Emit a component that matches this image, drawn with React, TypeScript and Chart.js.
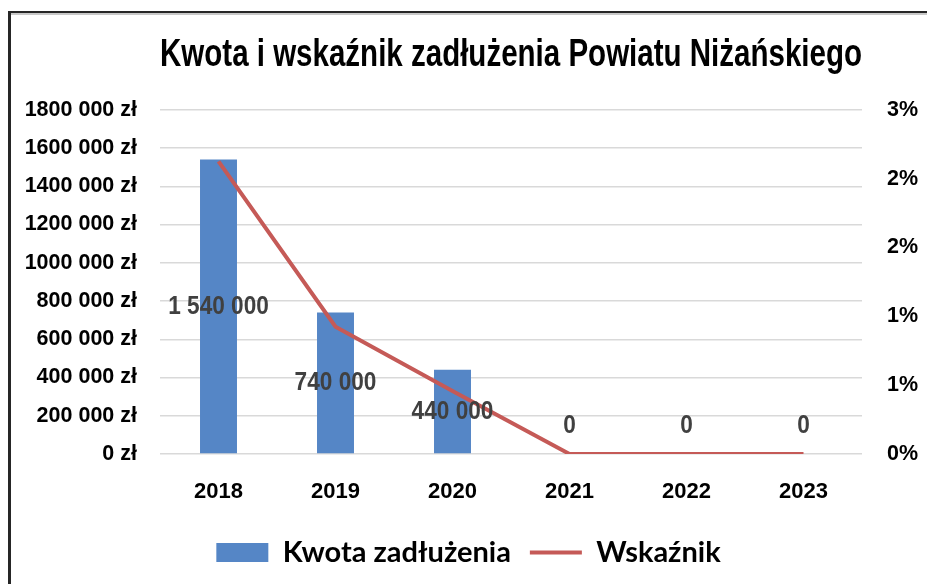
import React, { useEffect, useRef } from "react";
import { Chart, registerables } from "chart.js";

Chart.register(...registerables);

const TITLE = "Kwota i wskaźnik zadłużenia Powiatu Niżańskiego";
const years = ["2018", "2019", "2020", "2021", "2022", "2023"];
const debtAmounts = [1540000, 740000, 440000, 0, 0, 0];
const debtRatioPct = [2.55, 1.11, 0.55, 0, 0, 0];
const seriesNames = ["Kwota zadłużenia", "Wskaźnik"];

const amountTickValues = [0, 200000, 400000, 600000, 800000, 1000000, 1200000, 1400000, 1600000, 1800000];
const amountTickLabels = [
  "0 zł",
  "200 000 zł",
  "400 000 zł",
  "600 000 zł",
  "800 000 zł",
  "1000 000 zł",
  "1200 000 zł",
  "1400 000 zł",
  "1600 000 zł",
  "1800 000 zł",
];
const ratioTickValues = [0, 0.6, 1.2, 1.8, 2.4, 3];
const ratioTickLabels = ["0%", "1%", "1%", "2%", "2%", "3%"];

const BAR_COLOR = "#5586C6";
const LINE_COLOR = "#C55A57";
const SANS = "'Liberation Sans', Arial, sans-serif";
const LEGEND_FONT = "Lato, 'Noto Sans', sans-serif";

const fmt = (n: number) => String(n).replace(/\B(?=(\d{3})+(?!\d))/g, " ");

const framePlugin = {
  id: "frame",
  beforeDraw(chart: any) {
    const { ctx, width, height } = chart;
    ctx.save();
    ctx.fillStyle = "#ffffff";
    ctx.fillRect(0, 0, width, height);
    ctx.fillStyle = "#c8c8c8";
    ctx.fillRect(10, 13, width - 10, 2);
    ctx.fillStyle = "#262626";
    ctx.fillRect(8, 11, width - 8, 2);
    ctx.fillRect(8, 11, 3, height - 11);
    ctx.restore();
  },
};

const valueLabelPlugin = {
  id: "valueLabels",
  afterDatasetsDraw(chart: any) {
    const { ctx } = chart;
    const meta = chart.getDatasetMeta(0);
    ctx.save();
    ctx.font = `bold 26px ${SANS}`;
    ctx.fillStyle = "#404040";
    ctx.textAlign = "center";
    ctx.textBaseline = "middle";
    meta.data.forEach((el: any, i: number) => {
      const v = debtAmounts[i];
      const { x, y, base } = el.getProps(["x", "y", "base"], true);
      const ly = v > 0 ? (y + base) / 2 : base - 28;
      const txt = fmt(v);
      const w = ctx.measureText(txt).width;
      ctx.fillText(txt, x, ly, w * 0.87);
    });
    ctx.restore();
  },
};

export default function App() {
  const ref = useRef<HTMLCanvasElement>(null);

  useEffect(() => {
    document.body.style.margin = "0";
    const chart = new Chart(ref.current as HTMLCanvasElement, {
      type: "bar",
      data: {
        labels: years,
        datasets: [
          {
            type: "bar",
            label: seriesNames[0],
            data: debtAmounts,
            backgroundColor: BAR_COLOR,
            borderWidth: 0,
            yAxisID: "y",
            order: 1,
            barPercentage: 0.316,
            categoryPercentage: 1,
          },
          {
            type: "line",
            label: seriesNames[1],
            data: debtRatioPct,
            borderColor: LINE_COLOR,
            backgroundColor: LINE_COLOR,
            borderWidth: 4,
            pointRadius: 0,
            tension: 0,
            yAxisID: "y1",
            order: 0,
          },
        ],
      },
      options: {
        responsive: false,
        animation: false,
        devicePixelRatio: 1,
        layout: { padding: { left: 10, right: 0, top: 0, bottom: 7 } },
        plugins: {
          title: {
            display: true,
            text: TITLE,
            fullSize: false,
            color: "#000",
            font: { family: SANS, size: 39, weight: "bold", lineHeight: 1.2 },
            padding: { top: 32, bottom: 31 },
          },
          legend: {
            position: "bottom",
            labels: {
              usePointStyle: true,
              pointStyleWidth: 52,
              boxHeight: 19,
              padding: 19,
              color: "#000",
              font: { family: LEGEND_FONT, size: 29, weight: "bold" },
              generateLabels: (c: any) => {
                const items = (Chart.defaults.plugins.legend.labels as any).generateLabels(c);
                items.forEach((it: any) => {
                  if (it.datasetIndex === 0) {
                    it.pointStyle = "rect";
                    it.lineWidth = 0;
                    it.strokeStyle = BAR_COLOR;
                  } else {
                    it.pointStyle = "line";
                    it.lineWidth = 4;
                    it.strokeStyle = LINE_COLOR;
                  }
                });
                return items.sort((a: any, b: any) => a.datasetIndex - b.datasetIndex);
              },
            },
          },
          tooltip: { enabled: false },
        },
        scales: {
          x: {
            grid: { display: false, drawTicks: false },
            border: { display: false },
            ticks: {
              color: "#000",
              font: { family: SANS, size: 22, weight: "bold" },
              padding: 25,
            },
            afterFit: (s: any) => {
              s.height = 65;
            },
          },
          y: {
            position: "left",
            min: 0,
            max: 1800000,
            grid: { color: "#d9d9d9", lineWidth: 1.5, drawTicks: false },
            border: { display: false },
            afterBuildTicks: (s: any) => {
              s.ticks = amountTickValues.map((v) => ({ value: v }));
            },
            ticks: {
              callback: (_v: any, i: number) => amountTickLabels[i],
              padding: 23,
              color: "#000",
              font: { family: SANS, size: 21.5, weight: "bold" },
            },
            afterFit: (s: any) => {
              s.width = 150;
            },
          },
          y1: {
            position: "right",
            min: 0,
            max: 3,
            grid: { display: false, drawTicks: false },
            border: { display: false },
            afterBuildTicks: (s: any) => {
              s.ticks = ratioTickValues.map((v) => ({ value: v }));
            },
            ticks: {
              callback: (_v: any, i: number) => ratioTickLabels[i],
              padding: 25,
              color: "#000",
              font: { family: SANS, size: 21.5, weight: "bold" },
            },
            afterFit: (s: any) => {
              s.width = 65;
            },
          },
        },
      } as any,
      plugins: [framePlugin, valueLabelPlugin],
    });
    return () => chart.destroy();
  }, []);

  return (
    <div style={{ width: 927, height: 584 }}>
      <canvas ref={ref} width={927} height={584} style={{ display: "block" }} />
    </div>
  );
}
